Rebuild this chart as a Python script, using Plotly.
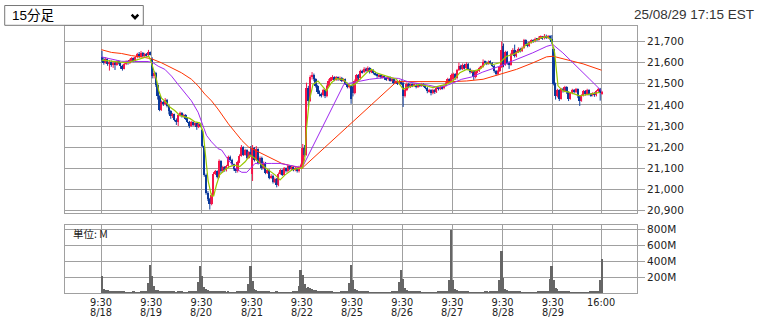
import plotly.graph_objects as go

# ---------------- data ----------------
dates = ["8/18", "8/19", "8/20", "8/21", "8/22", "8/25", "8/26", "8/27", "8/28", "8/29"]
session_times = ["9:30", "9:45", "10:00", "10:15", "10:30", "10:45", "11:00", "11:15", "11:30",
                 "11:45", "12:00", "12:15", "12:30", "12:45", "13:00", "13:15", "13:30", "13:45",
                 "14:00", "14:15", "14:30", "14:45", "15:00", "15:15", "15:30", "15:45", "16:00"]

opens = [
    21625,21610,21600,21615,21595,21605,21588,21600,21590,21605,21598,21585,21572,21592,21605,21598,21612,21620,21608,21625,21640,21628,21645,21630,21640,21635,21648,
    21615,21535,21552,21495,21440,21378,21412,21402,21425,21395,21370,21345,21355,21330,21318,21350,21362,21345,21352,21335,21320,21300,21318,21305,21312,21295,21308,
    21280,21205,21070,20985,20955,20930,20975,21075,21085,21060,21135,21085,21105,21090,21110,21155,21140,21118,21095,21085,21130,21160,21200,21165,21185,21150,21175,
    21075,21195,21140,21190,21125,21150,21100,21125,21080,21090,21055,21065,21035,21050,21020,21075,21090,21070,21100,21085,21110,21095,21105,21090,21100,21085,21105,
    21115,21195,21165,21480,21420,21530,21540,21520,21490,21460,21450,21445,21470,21440,21490,21515,21525,21530,21518,21530,21520,21528,21515,21520,21500,21485,21492,
    21485,21455,21515,21540,21525,21560,21555,21572,21560,21575,21555,21565,21550,21545,21535,21540,21530,21535,21525,21520,21530,21515,21520,21505,21510,21500,21512,
    21505,21440,21470,21500,21485,21495,21490,21495,21485,21495,21490,21498,21490,21480,21465,21470,21455,21470,21460,21480,21475,21485,21478,21490,21505,21520,21510,
    21520,21545,21525,21565,21585,21570,21590,21575,21595,21570,21555,21560,21530,21555,21560,21575,21580,21605,21600,21595,21605,21598,21585,21560,21545,21560,21580,
    21680,21590,21650,21600,21590,21640,21660,21630,21650,21665,21655,21670,21705,21690,21680,21695,21705,21700,21712,21708,21718,21722,21715,21728,21718,21725,21712,
    21665,21500,21440,21470,21430,21475,21465,21485,21460,21430,21455,21470,21460,21475,21440,21420,21445,21465,21450,21470,21450,21445,21455,21445,21465,21475,21455,
]
highs = [
    21655,21625,21625,21620,21612,21610,21606,21604,21610,21612,21602,21590,21598,21610,21610,21618,21626,21624,21630,21646,21650,21655,21650,21646,21645,21660,21652,
    21625,21560,21556,21500,21445,21420,21418,21432,21428,21400,21375,21362,21358,21336,21356,21368,21366,21358,21356,21340,21324,21324,21322,21318,21316,21314,21312,
    21285,21210,21075,20992,20960,20982,21082,21092,21090,21142,21138,21112,21110,21116,21160,21160,21145,21122,21100,21136,21166,21210,21204,21192,21190,21182,21205,
    21210,21200,21205,21194,21156,21155,21132,21130,21096,21095,21072,21070,21056,21054,21080,21096,21095,21106,21104,21116,21114,21110,21110,21106,21104,21112,21122,
    21215,21210,21505,21490,21540,21555,21548,21526,21495,21468,21458,21476,21474,21496,21522,21532,21540,21535,21536,21534,21534,21532,21526,21524,21505,21498,21496,
    21500,21520,21546,21545,21566,21566,21578,21576,21582,21578,21570,21568,21556,21550,21546,21544,21540,21540,21530,21535,21534,21526,21524,21516,21514,21518,21516,
    21510,21476,21506,21504,21500,21500,21500,21500,21500,21500,21504,21502,21494,21485,21476,21474,21476,21474,21486,21486,21490,21490,21496,21512,21528,21525,21548,
    21552,21550,21570,21600,21590,21596,21594,21602,21598,21575,21566,21564,21560,21566,21580,21586,21615,21610,21606,21610,21610,21602,21590,21565,21566,21586,21700,
    21690,21656,21655,21606,21646,21668,21685,21656,21672,21670,21676,21712,21710,21695,21700,21710,21710,21718,21716,21724,21728,21726,21735,21732,21730,21730,21730,
    21672,21505,21476,21474,21480,21480,21490,21488,21464,21460,21476,21475,21480,21478,21445,21450,21470,21470,21476,21474,21456,21460,21460,21470,21480,21480,21466,
]
lows = [
    21600,21590,21595,21585,21562,21580,21575,21565,21585,21592,21570,21562,21568,21588,21590,21594,21606,21602,21604,21620,21622,21624,21626,21626,21628,21630,21634,
    21525,21525,21485,21425,21370,21372,21395,21398,21388,21355,21334,21338,21322,21305,21300,21345,21340,21340,21328,21314,21290,21296,21300,21300,21282,21290,21294,
    21200,21060,20975,20945,20905,20925,20970,21068,21052,21055,21078,21080,21084,21085,21105,21134,21112,21088,21078,21080,21125,21155,21158,21160,21144,21145,21155,
    21040,21132,21135,21118,21120,21092,21095,21072,21074,21048,21050,21028,21030,21010,21015,21070,21064,21066,21080,21080,21090,21090,21086,21086,21080,21080,21098,
    21100,21155,21160,21390,21415,21520,21512,21482,21452,21440,21435,21440,21432,21436,21485,21510,21518,21512,21514,21514,21515,21508,21510,21494,21478,21478,21405,
    21440,21450,21510,21518,21520,21548,21550,21554,21555,21548,21550,21544,21538,21528,21530,21524,21525,21518,21514,21515,21510,21510,21498,21500,21494,21496,21494,
    21390,21435,21465,21478,21480,21484,21485,21478,21480,21484,21485,21484,21474,21455,21458,21445,21450,21452,21456,21468,21470,21472,21474,21486,21500,21504,21506,
    21505,21518,21520,21560,21564,21565,21568,21570,21564,21548,21550,21518,21525,21550,21555,21570,21576,21594,21588,21590,21592,21578,21552,21538,21540,21555,21575,
    21578,21585,21590,21570,21585,21635,21624,21625,21645,21648,21650,21665,21684,21672,21675,21690,21694,21696,21702,21704,21712,21708,21710,21712,21712,21706,21688,
    21492,21425,21435,21418,21425,21458,21460,21452,21418,21425,21450,21454,21455,21432,21395,21415,21440,21444,21445,21444,21438,21440,21438,21440,21460,21420,21448,
]
closes = [
    21610,21600,21615,21595,21605,21588,21600,21590,21605,21598,21585,21572,21592,21605,21598,21612,21620,21608,21625,21640,21628,21645,21630,21640,21635,21648,21640,
    21535,21552,21495,21440,21378,21412,21402,21425,21395,21370,21345,21355,21330,21318,21350,21362,21345,21352,21335,21320,21300,21318,21305,21312,21295,21308,21300,
    21205,21070,20985,20955,20930,20975,21075,21085,21060,21135,21085,21105,21090,21110,21155,21140,21118,21095,21085,21130,21160,21200,21165,21185,21150,21175,21160,
    21195,21140,21190,21125,21150,21100,21125,21080,21090,21055,21065,21035,21050,21020,21075,21090,21070,21100,21085,21110,21095,21105,21090,21100,21085,21105,21115,
    21195,21165,21480,21420,21530,21540,21520,21490,21460,21450,21445,21470,21440,21490,21515,21525,21530,21518,21530,21520,21528,21515,21520,21500,21485,21492,21430,
    21455,21515,21540,21525,21560,21555,21572,21560,21575,21555,21565,21550,21545,21535,21540,21530,21535,21525,21520,21530,21515,21520,21505,21510,21500,21512,21500,
    21440,21470,21500,21485,21495,21490,21495,21485,21495,21490,21498,21490,21480,21465,21470,21455,21470,21460,21480,21475,21485,21478,21490,21505,21520,21510,21540,
    21545,21525,21565,21585,21570,21590,21575,21595,21570,21555,21560,21530,21555,21560,21575,21580,21605,21600,21595,21605,21598,21585,21560,21545,21560,21580,21660,
    21590,21650,21600,21590,21640,21660,21630,21650,21665,21655,21670,21705,21690,21680,21695,21705,21700,21712,21708,21718,21722,21715,21728,21718,21725,21712,21695,
    21500,21440,21470,21430,21475,21465,21485,21460,21430,21455,21470,21460,21475,21440,21420,21445,21465,21450,21470,21450,21445,21455,21445,21465,21475,21455,21460,
]
volume_m = [
    212,46,40,33,27,22,20,18,15,14,13,12,12,11,10,10,11,12,10,9,10,12,13,15,18,129,354,
    212,88,40,35,28,22,20,17,15,14,13,12,12,11,12,15,12,10,10,11,12,12,14,15,20,141,338,
    212,70,50,40,30,25,20,18,15,14,13,12,12,11,12,10,9,10,11,12,12,13,14,15,18,108,338,
    150,46,35,25,20,15,14,13,12,12,11,10,10,12,11,10,9,10,11,10,10,11,12,14,16,88,288,
    233,117,67,80,60,50,40,35,30,25,20,18,15,14,13,12,12,11,10,10,11,12,13,14,16,129,350,
    160,46,35,28,22,18,15,13,12,11,10,10,9,9,10,9,10,10,11,10,11,12,13,14,16,140,288,
    171,60,40,30,22,18,16,14,13,12,11,10,10,9,10,11,10,10,11,12,12,13,14,16,20,160,796,
    165,46,35,28,22,18,15,13,12,11,10,10,10,9,10,10,11,12,12,11,12,13,14,15,18,160,525,
    192,46,35,28,22,18,15,13,12,12,11,10,10,10,10,9,10,10,11,12,12,13,14,15,18,171,338,
    165,60,45,30,22,18,15,13,12,11,10,10,9,9,10,10,9,10,10,11,12,12,13,14,17,160,430,
]

# moving averages (x in bar units, value in index points)
ma_short_x = [0.4,4.7,10.1,14.4,18.7,22.4,25.7,27.1,28.5,29.8,31.0,32.5,35.2,37.0,39.6,42.3,45.0,47.7,50.4,53.1,
              54.9,56.2,57.6,59.4,60.6,62.1,63.8,66.5,69.2,71.9,74.6,77.5,80.2,82.8,86.4,90.0,93.6,96.3,99.0,102.6,
              106.2,108.3,109.6,110.5,111.9,114.0,116.7,119.4,121.2,123.9,126.6,130.2,133.8,136.5,139.2,142.8,145.5,148.1,153.5,158.9,
              160.7,162.5,164.3,167.8,171.4,175.0,178.6,182.2,185.8,189.3,193.0,196.6,200.1,203.7,207.3,210.9,214.5,218.1,221.6,225.2,
              228.8,232.4,236.0,239.6,242.3,244.0,245.8,248.5,252.1,257.5,262.9,268.3]
ma_short_v = [21612,21606,21602,21600,21612,21622,21630,21600,21560,21521,21468,21432,21410,21390,21373,21350,21343,21336,21320,21315,
              21273,21147,21040,20969,20969,21022,21069,21092,21108,21115,21108,21131,21162,21147,21116,21092,21069,21045,21069,21092,
              21100,21103,21147,21287,21413,21497,21513,21482,21466,21505,21524,21521,21490,21497,21520,21552,21568,21552,21536,21521,
              21497,21474,21482,21490,21497,21490,21482,21490,21497,21513,21552,21568,21560,21568,21599,21591,21599,21630,21638,21653,
              21685,21700,21716,21723,21708,21646,21490,21466,21459,21443,21451,21459]
ma_mid_x = [0.2,3.8,7.4,11.0,18.1,25.3,28.0,30.7,34.3,37.9,41.4,45.0,48.6,52.2,54.0,56.7,59.4,62.9,64.9,68.5,
            72.1,75.7,78.4,81.1,82.8,91.8,96.3,100.8,108.2,130.6,135.4,144.5,152.6,160.1,165.5,171.4,176.2,181.7,185.4,189.2,
            194.0,199.4,205.3,214.5,223.6,232.2,239.8,243.1,248.4,255.9,262.9,269.2]
ma_mid_v = [21627,21620,21610,21606,21605,21605,21599,21583,21568,21536,21497,21459,21419,21365,21318,21256,21225,21193,21186,21139,
            21100,21081,21081,21108,21123,21123,21123,21115,21103,21497,21505,21521,21529,21525,21508,21500,21493,21482,21490,21503,
            21521,21532,21555,21583,21614,21646,21677,21685,21646,21583,21521,21466]
ma_long_x = [0.2,5.6,11.0,16.4,21.7,27.1,32.5,37.9,43.2,48.6,52.2,55.8,59.4,62.9,66.5,68.5,72.1,75.7,79.3,82.8,
             86.4,90.0,93.6,97.2,100.8,104.4,108.1,158.4,160.1,188.8,196.6,205.5,214.5,223.5,232.4,239.6,243.1,250.3,259.3,269.2]
ma_long_v = [21661,21648,21643,21633,21627,21618,21599,21575,21552,21521,21490,21451,21419,21380,21334,21310,21271,21232,21201,21185,
             21170,21155,21139,21123,21115,21108,21100,21505,21510,21510,21513,21521,21544,21568,21599,21627,21630,21614,21594,21564]

vol_ticks = [200, 400, 600, 800]
price_ticks = [20900, 21000, 21100, 21200, 21300, 21400, 21500, 21600, 21700]

# ---------------- derived positions ----------------
n = len(closes)
bars_per_day = len(session_times)
xs = [i + 0.5 for i in range(n)]
bar_time = [session_times[i % bars_per_day] for i in range(n)]
tick_idx = [i for i in range(n) if bar_time[i] == "9:30"] + [n - 1]
tick_time = [bar_time[i] for i in tick_idx]
tick_date = [dates[i // bars_per_day] for i in tick_idx[:-1]] + [""]

UP = "#f5174a"
DOWN = "#0b3a9c"
GRID = "#a0a0a0"
TXT = "#222222"
AXFONT = dict(family="DejaVu Sans", size=10.5, color=TXT)
XFONT = dict(family="DejaVu Sans", size=9.8, color=TXT)

up = [c >= o for o, c in zip(opens, closes)]
body_base = [min(o, c) for o, c in zip(opens, closes)]
body_h = [max(abs(c - o), 2) for o, c in zip(opens, closes)]
body_col = [UP if u else DOWN for u in up]

def wick_xy(sel):
    wx, wy = [], []
    for i in range(n):
        if up[i] == sel:
            wx += [xs[i], xs[i], None]
            wy += [lows[i], highs[i], None]
    return wx, wy

fig = go.Figure()

fig.add_trace(go.Bar(x=xs, y=volume_m, xaxis="x2", yaxis="y2", width=1.0,
                     marker=dict(color="#666666", line=dict(width=0)), showlegend=False))

for sel, col in [(True, UP), (False, DOWN)]:
    wx, wy = wick_xy(sel)
    fig.add_trace(go.Scatter(x=wx, y=wy, mode="lines", line=dict(color=col, width=1),
                             showlegend=False, hoverinfo="skip"))

fig.add_trace(go.Bar(x=xs, y=body_h, base=body_base, width=0.95,
                     marker=dict(color=body_col, line=dict(width=0)), showlegend=False))

fig.add_trace(go.Scatter(x=ma_long_x, y=ma_long_v, mode="lines",
                         line=dict(color="#ff3300", width=1), showlegend=False))
fig.add_trace(go.Scatter(x=ma_mid_x, y=ma_mid_v, mode="lines",
                         line=dict(color="#a028f0", width=1), showlegend=False))
fig.add_trace(go.Scatter(x=ma_short_x, y=ma_short_v, mode="lines",
                         line=dict(color="#99c800", width=1.2), showlegend=False))

x_range = [-19.4, n + 18.3]
common_x = dict(range=x_range, tickvals=tick_idx, showgrid=True, gridcolor=GRID, gridwidth=1,
                showline=True, linecolor=GRID, linewidth=1, mirror=True, zeroline=False, ticks="")

fig.update_layout(
    width=760, height=320,
    margin=dict(l=65, r=123, t=26, b=24),
    paper_bgcolor="white", plot_bgcolor="white",
    barmode="overlay", bargap=0, hovermode=False,
    xaxis=dict(domain=[0, 1], anchor="y", showticklabels=False, **common_x),
    yaxis=dict(domain=[0.3, 1], range=[20889, 21773], side="right", tickvals=price_ticks,
               tickformat=",d", ticks="outside", ticklen=7, tickcolor=GRID, tickfont=AXFONT,
               showgrid=True, gridcolor=GRID, gridwidth=1, showline=True, linecolor=GRID,
               mirror=True, zeroline=False),
    xaxis2=dict(domain=[0, 1], anchor="y2", matches="x", ticktext=tick_time, tickfont=XFONT,
                **common_x),
    yaxis2=dict(domain=[0, 0.2544], range=[0, 859], side="right", tickvals=vol_ticks,
                ticktext=[f"{v}M" for v in vol_ticks], ticks="outside", ticklen=7, tickcolor=GRID,
                tickfont=AXFONT, showgrid=True, gridcolor=GRID, gridwidth=1, showline=True,
                linecolor=GRID, mirror=True, zeroline=False),
)

annotations = []
for xv, d in zip(tick_idx, tick_date):
    if d:
        annotations.append(dict(x=xv, y=-0.0741, xref="x2", yref="paper", text=d, showarrow=False,
                                xanchor="center", yanchor="middle", borderpad=0, font=XFONT))
annotations.append(dict(x=0.0105, y=0.224, xref="paper", yref="paper", text="単位: M", showarrow=False,
                        xanchor="left", yanchor="middle",
                        font=dict(family="Noto Sans CJK JP", size=10.5, color=TXT)))
annotations.append(dict(x=-0.0962, y=1.0389, xref="paper", yref="paper", text="15分足", showarrow=False,
                        xanchor="left", yanchor="middle",
                        font=dict(family="Liberation Sans, Noto Sans CJK JP", size=13.5, color="#000000")))
annotations.append(dict(x=1.208, y=1.0426, xref="paper", yref="paper", text="25/08/29 17:15 EST",
                        showarrow=False, xanchor="right", yanchor="middle",
                        font=dict(family="Liberation Sans", size=13.5, color="#333333")))
fig.update_layout(annotations=annotations)

fig.update_layout(shapes=[
    dict(type="rect", xref="paper", yref="paper", x0=-0.1054, x1=0.1369, y0=1.0026, y1=1.0767,
         line=dict(color="#767676", width=1), fillcolor="white", layer="above"),
    dict(type="path", xref="paper", yref="paper",
         path="M 0.1166 1.0426 L 0.1224 1.0296 L 0.1281 1.0426",
         line=dict(color="#000000", width=2.5), layer="above"),
])

fig.write_html("out.html")
